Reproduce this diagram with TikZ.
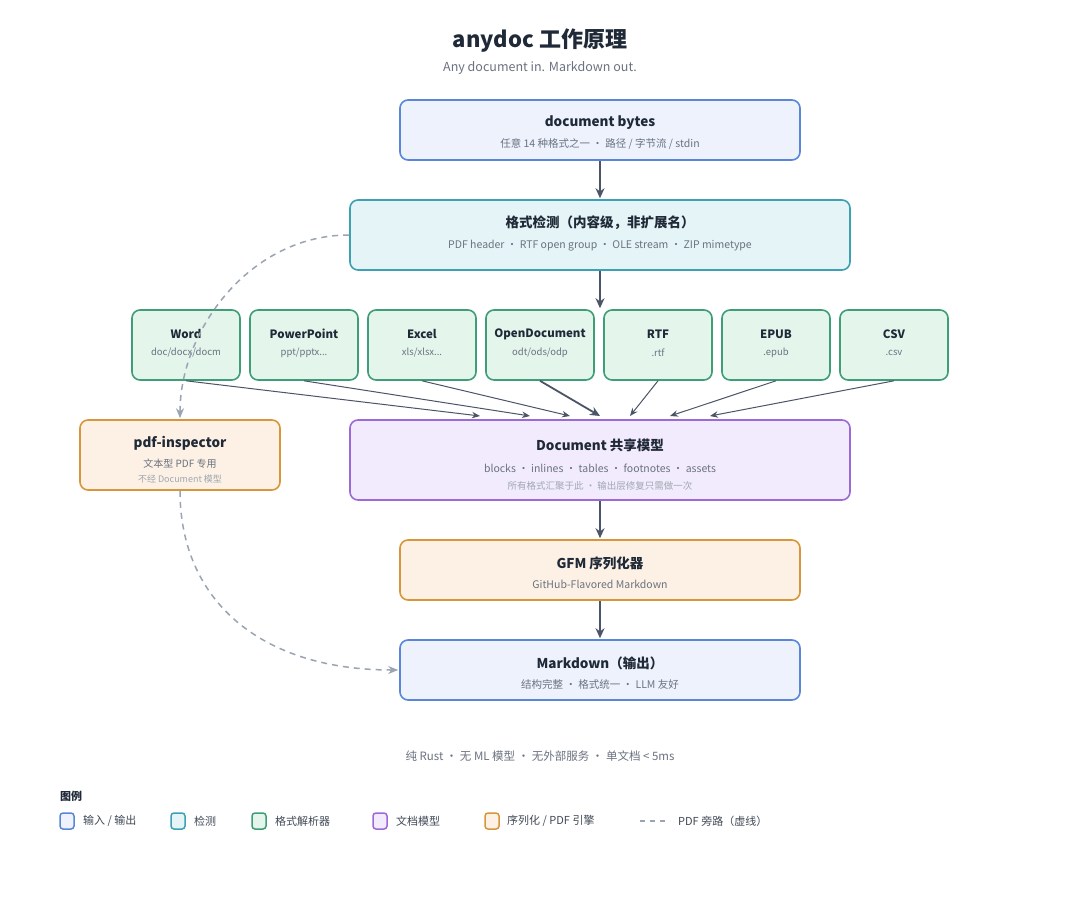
\documentclass[tikz,border=0pt]{standalone}
\usepackage{fontspec}
\setmainfont{Noto Sans CJK SC}
\usetikzlibrary{arrows.meta}
\definecolor{ctext}{HTML}{1F2937}
\definecolor{csub}{HTML}{6B7280}
\definecolor{clight}{HTML}{A0A7B2}
\definecolor{cblue}{HTML}{5A86D8}
\definecolor{fblue}{HTML}{EDF2FD}
\definecolor{cteal}{HTML}{3EA0B3}
\definecolor{fteal}{HTML}{E5F4F6}
\definecolor{cgreen}{HTML}{3F9D78}
\definecolor{fgreen}{HTML}{E4F5EC}
\definecolor{cpurple}{HTML}{9C6AD8}
\definecolor{fpurple}{HTML}{F1EBFD}
\definecolor{corange}{HTML}{D8963C}
\definecolor{forange}{HTML}{FCF1E4}
\definecolor{carrow}{HTML}{4B5567}
\definecolor{cdash}{HTML}{9AA4B2}
\tikzset{
  box/.style={draw, rounded corners=8pt, line width=1.6pt, inner sep=0pt},
  bluebox/.style={box, draw=cblue, fill=fblue},
  tealbox/.style={box, draw=cteal, fill=fteal},
  greenbox/.style={box, draw=cgreen, fill=fgreen, minimum width=108pt, minimum height=70pt},
  purplebox/.style={box, draw=cpurple, fill=fpurple},
  orangebox/.style={box, draw=corange, fill=forange},
  ttl/.style={font=\bfseries\fontsize{13.5}{16}\selectfont, text=ctext, inner sep=0pt},
  ptl/.style={font=\bfseries\fontsize{11.5}{14}\selectfont, text=ctext, inner sep=0pt},
  sub/.style={font=\fontsize{10.5}{13}\selectfont, text=csub, inner sep=0pt},
  psub/.style={font=\fontsize{9.5}{12}\selectfont, text=csub, inner sep=0pt},
  sub2/.style={font=\fontsize{9.5}{12}\selectfont, text=clight, inner sep=0pt},
  arr/.style={draw=carrow, line width=1.6pt, -{Stealth[length=10pt,width=9pt]}},
  parr/.style={draw=carrow, line width=1pt, -{Stealth[length=8pt,width=6.5pt]}},
  parrb/.style={draw=carrow, line width=1.8pt, -{Stealth[length=10pt,width=9pt]}},
  dashl/.style={draw=cdash, line width=1.5pt, dash pattern=on 6pt off 5pt, -{Stealth[length=10pt,width=8pt]}},
  leg/.style={draw, rounded corners=3pt, line width=1.5pt, minimum width=14pt, minimum height=16pt, inner sep=0pt},
  legt/.style={font=\fontsize{11}{13}\selectfont, text=ctext!85, inner sep=0pt, anchor=west}
}
\begin{document}
\begin{tikzpicture}[x=1pt,y=-1pt]
\useasboundingbox (0,0) rectangle (1080,900);
\fill[white] (0,0) rectangle (1080,900);

% title
\node[font=\bfseries\fontsize{22}{26}\selectfont, text=ctext, inner sep=0pt] (title) at (540,41) {anydoc 工作原理};
\node[font=\fontsize{12.5}{15}\selectfont, text=csub, inner sep=0pt] (subtitle) at (540,68) {Any document in. Markdown out.};

% document bytes
\node[bluebox, minimum width=400pt, minimum height=60pt] (bytes) at (600,130) {};
\node[ttl] (bytesT) at (600,123) {document bytes};
\node[sub] (bytesS) at (600,144) {任意 14 种格式之一 · 路径 / 字节流 / stdin};

% detection
\node[tealbox, minimum width=500pt, minimum height=70pt] (det) at (600,235) {};
\node[ttl] (detT) at (600,223) {格式检测（内容级，非扩展名）};
\node[sub] (detS) at (600,246) {PDF header · RTF open group · OLE stream · ZIP mimetype};

% parsers
\node[greenbox] (word) at (186,345) {};
\node[ptl] (wordT) at (186,334) {Word};
\node[psub] (wordS) at (186,353) {doc/docx/docm};
\node[greenbox] (ppt) at (304,345) {};
\node[ptl] (pptT) at (304,334) {PowerPoint};
\node[psub] (pptS) at (304,353) {ppt/pptx...};
\node[greenbox] (xls) at (422,345) {};
\node[ptl] (xlsT) at (422,334) {Excel};
\node[psub] (xlsS) at (422,353) {xls/xlsx...};
\node[greenbox] (odf) at (540,345) {};
\node[ptl] (odfT) at (540,334) {OpenDocument};
\node[psub] (odfS) at (540,353) {odt/ods/odp};
\node[greenbox] (rtf) at (658,345) {};
\node[ptl] (rtfT) at (658,334) {RTF};
\node[psub] (rtfS) at (658,353) {.rtf};
\node[greenbox] (epub) at (776,345) {};
\node[ptl] (epubT) at (776,334) {EPUB};
\node[psub] (epubS) at (776,353) {.epub};
\node[greenbox] (csv) at (894,345) {};
\node[ptl] (csvT) at (894,334) {CSV};
\node[psub] (csvS) at (894,353) {.csv};

% pdf-inspector
\node[orangebox, minimum width=200pt, minimum height=70pt] (pdf) at (180,455) {};
\node[ttl] (pdfT) at (180,443) {pdf-inspector};
\node[font=\fontsize{10}{12}\selectfont, text=csub, inner sep=0pt] (pdfS) at (180,464) {文本型 PDF 专用};
\node[font=\fontsize{9}{11}\selectfont, text=clight, inner sep=0pt] (pdfS2) at (180,479) {不经 Document 模型};

% Document model
\node[purplebox, minimum width=500pt, minimum height=80pt] (doc) at (600,460) {};
\node[ttl] (docT) at (600,445) {Document 共享模型};
\node[sub] (docS) at (600,468) {blocks · inlines · tables · footnotes · assets};
\node[sub2] (docS2) at (600,486) {所有格式汇聚于此 · 输出层修复只需做一次};

% GFM
\node[orangebox, minimum width=400pt, minimum height=60pt] (gfm) at (600,570) {};
\node[ttl] (gfmT) at (600,563) {GFM 序列化器};
\node[sub] (gfmS) at (600,584) {GitHub-Flavored Markdown};

% Markdown
\node[bluebox, minimum width=400pt, minimum height=60pt] (md) at (600,670) {};
\node[ttl] (mdT) at (600,663) {Markdown（输出）};
\node[sub] (mdS) at (600,684) {结构完整 · 格式统一 · LLM 友好};

% main arrows
\draw[arr, shorten >=1pt] (bytes.south) -- (det.north);
\draw[arr, shorten >=1pt] (det.south) -- (odf.north -| det.south);
\draw[arr, shorten >=1pt] (doc.south) -- (gfm.north);
\draw[arr, shorten >=1pt] (gfm.south) -- (md.north);

% parser arrows
\coordinate (t1) at (480,416);
\coordinate (t2) at (530,416);
\coordinate (t3) at (570,416);
\coordinate (t4) at (600,416);
\coordinate (t5) at (630,416);
\coordinate (t6) at (670,416);
\coordinate (t7) at (710,416);
\draw[parr] (word.south) -- (t1);
\draw[parr] (ppt.south) -- (t2);
\draw[parr] (xls.south) -- (t3);
\draw[parrb] (odf.south) -- (t4);
\draw[parr] (rtf.south) -- (t5);
\draw[parr] (epub.south) -- (t6);
\draw[parr] (csv.south) -- (t7);

% PDF bypass
\draw[dashl, shorten >=1pt] (det.west) .. controls (250,235) and (180,330) .. (pdf.north);
\draw[dashl, shorten >=1pt] (pdf.south) .. controls (180,600) and (260,670) .. (md.west);

% footer
\node[font=\fontsize{11.5}{14}\selectfont, text=csub, inner sep=0pt] (footer) at (540,756) {纯 Rust · 无 ML 模型 · 无外部服务 · 单文档 < 5ms};

% legend
\node[font=\bfseries\fontsize{11}{13}\selectfont, text=ctext, inner sep=0pt, anchor=west] (legT) at (60,796) {图例};
\node[leg, draw=cblue, fill=fblue] (lg1) at (67,821) {};
\node[legt] (lg1t) at (83,821) {输入 / 输出};
\node[leg, draw=cteal, fill=fteal] (lg2) at (178,821) {};
\node[legt] (lg2t) at (194,821) {检测};
\node[leg, draw=cgreen, fill=fgreen] (lg3) at (259,821) {};
\node[legt] (lg3t) at (275,821) {格式解析器};
\node[leg, draw=cpurple, fill=fpurple] (lg4) at (380,821) {};
\node[legt] (lg4t) at (396,821) {文档模型};
\node[leg, draw=corange, fill=forange] (lg5) at (492,821) {};
\node[legt] (lg5t) at (507,821) {序列化 / PDF 引擎};
\coordinate (lg6a) at (640,821);
\coordinate (lg6b) at (670,821);
\draw[draw=cdash, line width=1.5pt, dash pattern=on 5pt off 5pt] (lg6a) -- (lg6b);
\node[legt] (lg6t) at (678,821) {PDF 旁路（虚线）};
\end{tikzpicture}
\end{document}
